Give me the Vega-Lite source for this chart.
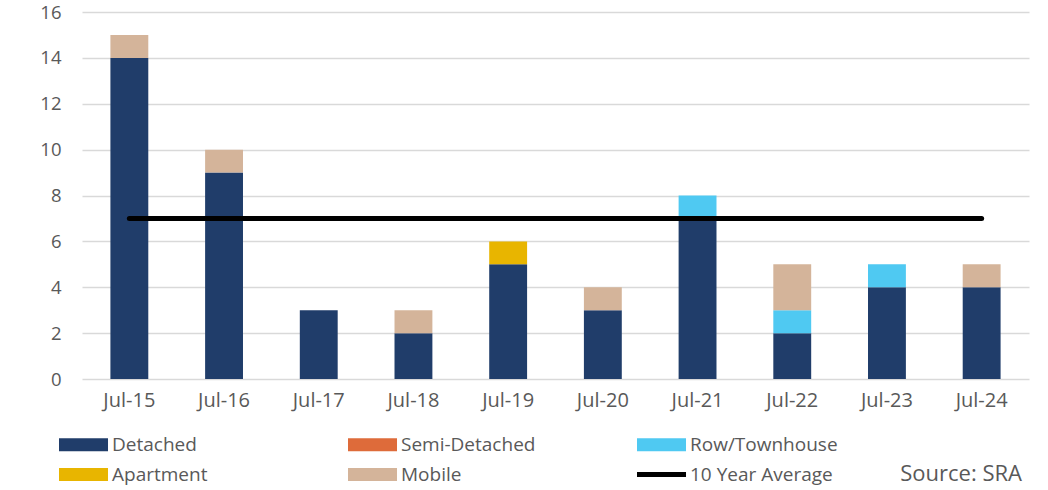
{
  "$schema": "https://vega.github.io/schema/vega-lite/v6.json",
  "autosize": {"type": "none"},
  "width": 947,
  "height": 367,
  "padding": {"left": 82, "top": 12, "right": 19, "bottom": 111},
  "background": "white",
  "config": {
    "font": "Open Sans",
    "view": {"stroke": null},
    "axis": {"labelFont": "Open Sans", "labelFontSize": 20, "labelColor": "#595959"}
  },
  "title": {
    "text": "Source: SRA",
    "orient": "bottom",
    "anchor": "end",
    "frame": "group",
    "baseline": "middle",
    "offset": -11,
    "dx": -7,
    "font": "Open Sans",
    "fontSize": 22,
    "fontWeight": "normal",
    "color": "#595959"
  },
  "data": {
    "values": [
      {"month": "Jul-15", "type": "Detached", "value": 14, "avg": 7},
      {"month": "Jul-15", "type": "Mobile", "value": 1},
      {"month": "Jul-16", "type": "Detached", "value": 9, "avg": 7},
      {"month": "Jul-16", "type": "Mobile", "value": 1},
      {"month": "Jul-17", "type": "Detached", "value": 3, "avg": 7},
      {"month": "Jul-18", "type": "Detached", "value": 2, "avg": 7},
      {"month": "Jul-18", "type": "Mobile", "value": 1},
      {"month": "Jul-19", "type": "Detached", "value": 5, "avg": 7},
      {"month": "Jul-19", "type": "Apartment", "value": 1},
      {"month": "Jul-20", "type": "Detached", "value": 3, "avg": 7},
      {"month": "Jul-20", "type": "Mobile", "value": 1},
      {"month": "Jul-21", "type": "Detached", "value": 7, "avg": 7},
      {"month": "Jul-21", "type": "Row/Townhouse", "value": 1},
      {"month": "Jul-22", "type": "Detached", "value": 2, "avg": 7},
      {"month": "Jul-22", "type": "Row/Townhouse", "value": 1},
      {"month": "Jul-22", "type": "Mobile", "value": 2},
      {"month": "Jul-23", "type": "Detached", "value": 4, "avg": 7},
      {"month": "Jul-23", "type": "Row/Townhouse", "value": 1},
      {"month": "Jul-24", "type": "Detached", "value": 4, "avg": 7},
      {"month": "Jul-24", "type": "Mobile", "value": 1}
    ]
  },
  "encoding": {
    "x": {
      "field": "month",
      "type": "nominal",
      "sort": null,
      "scale": {"paddingInner": 0.6, "paddingOuter": 0.3},
      "axis": {"title": null, "labelAngle": 0, "ticks": false, "domain": false, "grid": false, "labelPadding": 11}
    }
  },
  "layer": [
    {
      "mark": {"type": "bar"},
      "encoding": {
        "y": {
          "field": "value",
          "type": "quantitative",
          "stack": "zero",
          "scale": {"domain": [0, 16]},
          "axis": {"title": null, "values": [0, 2, 4, 6, 8, 10, 12, 14, 16], "labelOverlap": false, "labelFontSize": 18.5, "ticks": false, "domain": false, "grid": true, "gridColor": "#D9D9D9", "gridWidth": 1.3, "labelPadding": 21}
        },
        "color": {
          "field": "type",
          "type": "nominal",
          "scale": {
            "domain": ["Detached", "Semi-Detached", "Row/Townhouse", "Apartment", "Mobile", "10 Year Average"],
            "range": ["#203D6A", "#DE6B3A", "#4FC9F2", "#E8B500", "#D4B49A", "#000000"]
          },
          "legend": {
            "title": null,
            "orient": "none",
            "direction": "horizontal",
            "legendX": -26,
            "legendY": 423,
            "columns": 3,
            "gridAlign": "all",
            "columnPadding": 85,
            "rowPadding": 10,
            "symbolSize": 169,
            "symbolStrokeWidth": 0,
            "labelOffset": 37,
            "labelFont": "Open Sans",
            "labelFontSize": 19,
            "labelColor": "#595959",
            "labelLimit": 300,
            "encode": {
              "symbols": {
                "update": {
                  "shape": [
                    {"test": "datum.value === '10 Year Average'", "value": "M-1,-0.38H6.54V0.38H-1Z"},
                    {"value": "M-1,-1H6.54V1H-1Z"}
                  ],
                  "opacity": {"value": 1}
                }
              }
            }
          }
        },
        "order": {"field": "ord", "type": "quantitative"}
      },
      "transform": [
        {"filter": "datum.value != null"},
        {"calculate": "indexof(['Detached','Semi-Detached','Row/Townhouse','Apartment','Mobile'], datum.type)", "as": "ord"}
      ]
    },
    {
      "transform": [{"filter": "datum.avg != null"}],
      "mark": {"type": "line", "color": "#000000", "strokeWidth": 5, "strokeCap": "round"},
      "encoding": {
        "y": {
          "field": "avg",
          "type": "quantitative",
          "axis": {"title": null, "values": [0, 2, 4, 6, 8, 10, 12, 14, 16], "labelOverlap": false, "labelFontSize": 18.5, "ticks": false, "domain": false, "grid": true, "gridColor": "#D9D9D9", "gridWidth": 1.3, "labelPadding": 21}
        }
      }
    }
  ]
}
